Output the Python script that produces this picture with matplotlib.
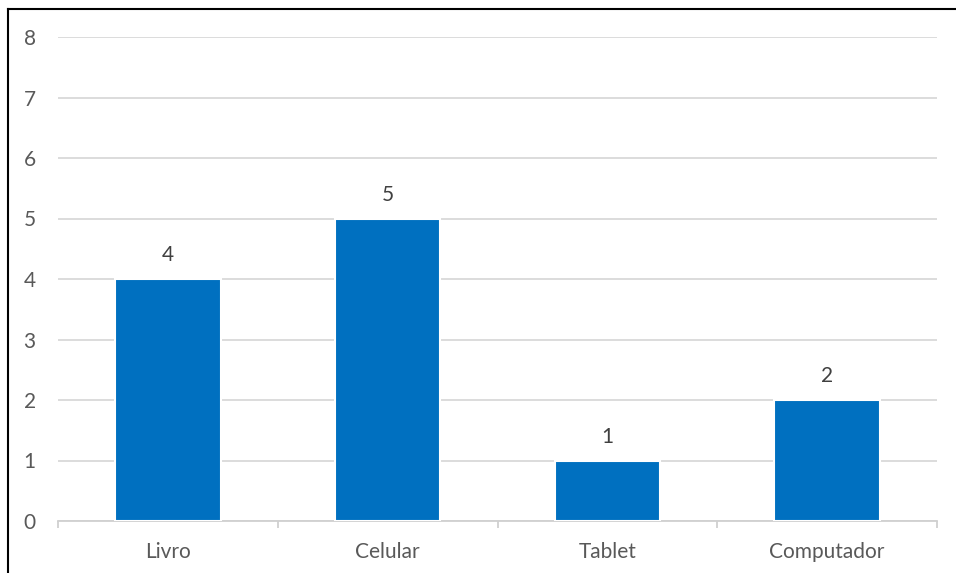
import matplotlib.pyplot as plt
from matplotlib.lines import Line2D

categories = ['Livro', 'Celular', 'Tablet', 'Computador']
values = [4, 5, 1, 2]

plt.rcParams['font.family'] = ['Lato', 'DejaVu Sans']

fig = plt.figure(figsize=(9.56, 5.73), dpi=100)
ax = fig.add_axes([58 / 956, 1 - 521 / 573, (937 - 58) / 956, (521 - 37) / 573])

x = range(len(categories))
bars = ax.bar(x, values, width=0.48, color='#0070C0', edgecolor='white', linewidth=1.5, zorder=3)

for b, v in zip(bars, values):
    ax.annotate(str(v), (b.get_x() + b.get_width() / 2, v), xytext=(0, 10),
                textcoords='offset points', ha='center', va='bottom',
                fontsize=15, color='#404040')

ax.set_xlim(-0.5, len(categories) - 0.5)
ax.set_ylim(0, 8)
ax.set_yticks(range(0, 9))
ax.yaxis.grid(True, color='#d9d9d9', linewidth=1.3, zorder=0)
ax.set_axisbelow(True)

for s in ['top', 'right', 'left']:
    ax.spines[s].set_visible(False)
ax.spines['bottom'].set_color('#d0d0d0')
ax.spines['bottom'].set_linewidth(1.3)

ax.set_xticks(list(x))
ax.set_xticklabels(categories)
ax.set_xticks([i - 0.5 for i in range(len(categories) + 1)], minor=True)
ax.tick_params(axis='x', which='major', length=0, pad=15, labelsize=15, labelcolor='#595959')
ax.tick_params(axis='x', which='minor', length=5, width=1.3, color='#d0d0d0')
ax.tick_params(axis='y', length=0, pad=16, labelsize=15, labelcolor='#595959')

# chart frame (left and top edges visible)
fig.add_artist(Line2D([8 / 956, 8 / 956], [0, 1 - 9 / 573], color='black', linewidth=1.5))
fig.add_artist(Line2D([8 / 956, 1], [1 - 9 / 573, 1 - 9 / 573], color='black', linewidth=1.5))

fig.savefig('out.png', dpi=100)
